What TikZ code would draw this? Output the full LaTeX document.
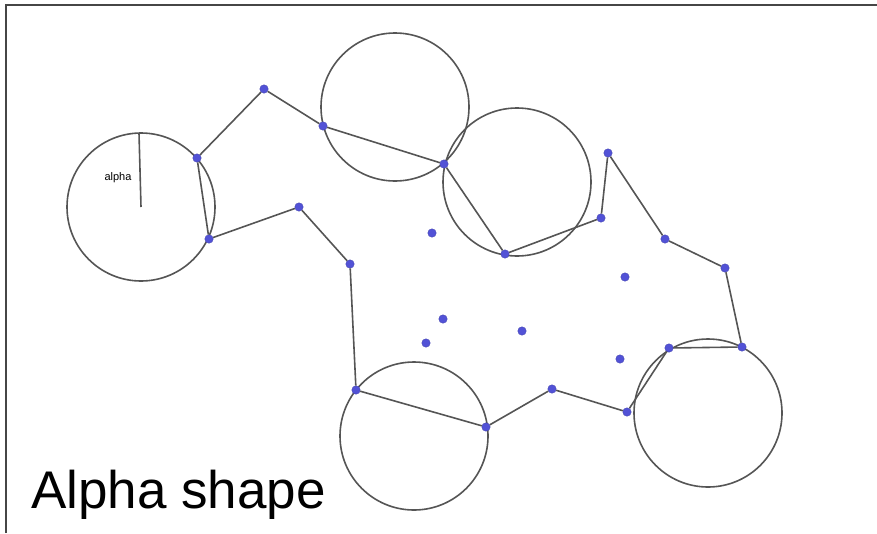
\documentclass[tikz,border=0pt]{standalone}
\usepackage{fontspec}
\setmainfont{Liberation Sans}
\definecolor{ptblue}{RGB}{82,82,214}
\definecolor{edgegrey}{RGB}{85,85,85}
\definecolor{framegrey}{RGB}{70,70,70}
\begin{document}
\begin{tikzpicture}[
  x=1pt, y=-1pt,
  pt/.style={circle, fill=ptblue, draw=ptblue!80!black, line width=0.3pt, inner sep=0pt, minimum size=8.5pt},
  edge/.style={draw=edgegrey, line width=1.6pt},
  ring/.style={draw=edgegrey, line width=1.6pt},
]
  \useasboundingbox (0,0) rectangle (877,533);
  % frame on top and left
  \coordinate (fbl) at (6,533);
  \coordinate (ftl) at (6,5);
  \coordinate (ftr) at (877,5);
  \draw[framegrey, line width=2pt] (fbl) -- (ftl) -- (ftr);
  % alpha circles
  \foreach \n/\x/\y in {c1/141/207, c2/395/107, c3/517/182, c4/414/436, c5/708/413}
    \coordinate (\n) at (\x,\y);
  \foreach \n in {c1,c2,c3,c4,c5}
    \draw[ring] (\n) circle (74);
  \coordinate (rtop) at (139,133);
  \draw[edge] (c1) -- (rtop);
  \node[font=\fontsize{11}{13}\selectfont] (alabel) at (118,178) {alpha};
  % points
  \foreach \n/\x/\y in {p1/197/158, p2/209/239, p3/264/89, p4/323/126, p5/444/164,
      p6/505/254, p7/601/218, p8/608/153, p9/665/239, p10/725/268, p11/742/347,
      p12/669/348, p13/627/412, p14/552/389, p15/486/427, p16/356/390,
      p17/350/264, p18/299/207,
      q1/432/233, q2/625/277, q3/443/319, q4/522/331, q5/426/343, q6/620/359}
    \node[pt] (\n) at (\x,\y) {};
  % boundary
  \foreach \a/\b in {p2/p1, p1/p3, p3/p4, p4/p5, p5/p6, p6/p7, p7/p8, p8/p9,
      p9/p10, p10/p11, p11/p12, p12/p13, p13/p14, p14/p15, p15/p16, p16/p17,
      p17/p18, p18/p2}
    \draw[edge] (\a) -- (\b);
  \node[anchor=base west, inner sep=0pt, font=\fontsize{53}{60}\selectfont] (title) at (31,508) {Alpha shape};
\end{tikzpicture}
\end{document}
